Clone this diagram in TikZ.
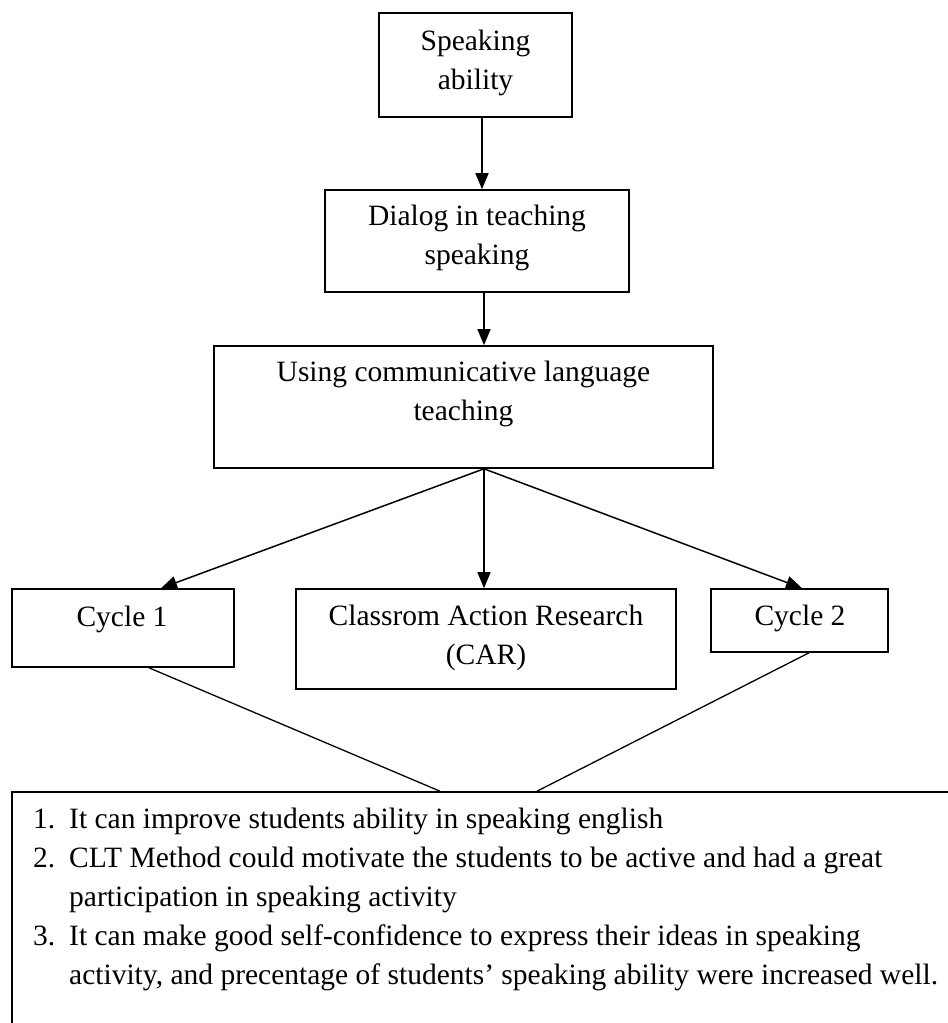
\documentclass[tikz,border=0pt]{standalone}
\usepackage{fontspec}
\setmainfont{Liberation Serif}
\usetikzlibrary{arrows.meta}
\tikzset{
  box/.style={draw, line width=1.6pt, inner sep=0pt},
  txt/.style={align=center, inner sep=0pt, font=\fontsize{29.5}{38.7}\selectfont},
  ltxt/.style={anchor=base west, inner sep=0pt, font=\fontsize{29.5}{38.7}\selectfont},
  arr/.style={line width=1.5pt, -{Triangle[length=16pt,width=13pt]}},
  ln/.style={line width=1.3pt}
}
\begin{document}
\begin{tikzpicture}[x=1pt,y=-1pt]
\useasboundingbox (0,0) rectangle (948,1023);
\clip (0,0) rectangle (948,1023);
% boxes
\node[box, minimum width=193pt, minimum height=104pt] (sp) at (475.5,65) {};
\node[txt] (spt) at (475.5,63) {Speaking\\ability};
\node[box, minimum width=304pt, minimum height=102pt] (dlg) at (477,241) {};
\node[txt] (dlgt) at (477,238) {Dialog in teaching\\speaking};
\node[box, minimum width=499pt, minimum height=122pt] (use) at (463.5,407) {};
\node[txt] (uset) at (463.5,394) {Using communicative language\\teaching};
\node[box, minimum width=222pt, minimum height=78pt] (c1) at (123,628) {};
\node[txt] (c1t) at (122,619) {Cycle 1};
\node[box, minimum width=380pt, minimum height=100pt] (car) at (486,639) {};
\node[txt] (cart) at (486,638) {Classrom Action Research\\(CAR)};
\node[box, minimum width=177pt, minimum height=63pt] (c2) at (799.5,620.5) {};
\node[txt] (c2t) at (800,618) {Cycle 2};
\node[box, minimum width=948pt, minimum height=260pt] (res) at (486,922) {};
% list
\node[ltxt] (n1) at (33,828) {1.};
\node[ltxt] (l1) at (69,828) {It can improve students ability in speaking english};
\node[ltxt] (n2) at (33,867) {2.};
\node[ltxt] (l2) at (69,867) {CLT Method could motivate the students to be active and had a great};
\node[ltxt] (l2b) at (69,906) {participation in speaking activity};
\node[ltxt] (n3) at (33,945) {3.};
\node[ltxt] (l3) at (69,945) {It can make good self-confidence to express their ideas in speaking};
\node[ltxt] (l3b) at (69,984) {activity, and precentage of students’ speaking ability were increased well.};
% connectors
\draw[arr] ([xshift=6.5pt]sp.south) -- ([xshift=5pt]dlg.north);
\draw[arr] ([xshift=7pt]dlg.south) -- ([xshift=20.5pt]use.north);
\draw[arr] ([xshift=20.5pt]use.south) -- ([xshift=38pt]c1.north);
\draw[arr] ([xshift=20.5pt]use.south) -- ([xshift=-2pt]car.north);
\draw[arr] ([xshift=20.5pt]use.south) -- ([xshift=2.5pt]c2.north);
\draw[ln] ([xshift=26pt]c1.south) -- ([xshift=-46pt]res.north);
\draw[ln] ([xshift=9.5pt]c2.south) -- ([xshift=51pt]res.north);
\end{tikzpicture}
\end{document}
